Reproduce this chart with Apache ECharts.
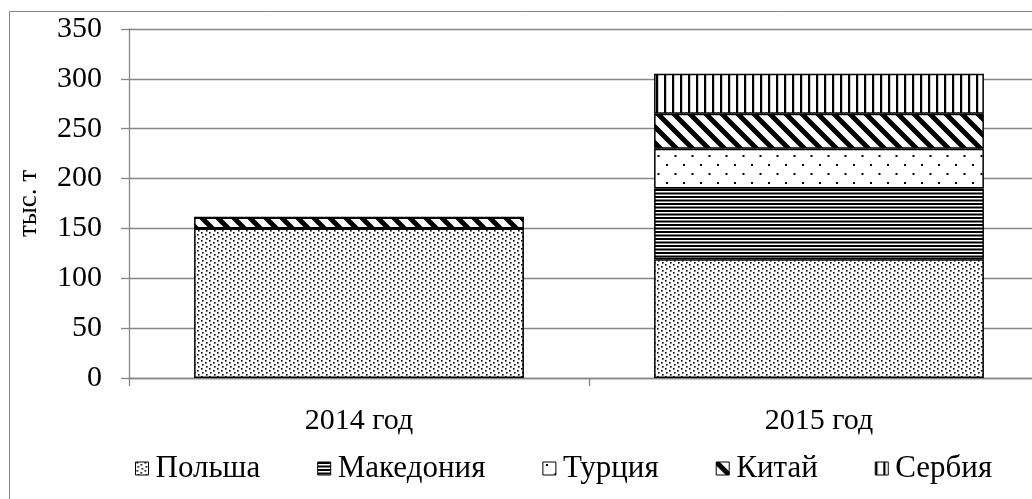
<!DOCTYPE html>
<html>
<head>
<meta charset="utf-8">
<script src="https://cdn.jsdelivr.net/npm/echarts@6/dist/echarts.min.js"></script>
<style>html,body{margin:0;padding:0;background:#fff}#c{width:1032px;height:499px}</style>
</head>
<body>
<div id="c"></div>
<script>
const categories = ['2014 год', '2015 год'];
const seriesNames = ['Польша', 'Македония', 'Турция', 'Китай', 'Сербия'];
const poland = [150, 119];
const macedonia = [0, 71];
const turkey = [0, 40];
const china = [11, 35];
const serbia = [0, 40];
const yTicks = [0, 50, 100, 150, 200, 250, 300, 350];

function makePattern(w, h, draw) {
  const c = document.createElement('canvas');
  c.width = w; c.height = h;
  const ctx = c.getContext('2d');
  ctx.fillStyle = '#fff';
  ctx.fillRect(0, 0, w, h);
  ctx.fillStyle = '#000';
  ctx.strokeStyle = '#000';
  draw(ctx, w, h);
  return { image: c, repeat: 'repeat' };
}
const patPoland = makePattern(8, 8, (ctx) => {
  ctx.fillRect(1, 0, 1.6, 1.6);
  ctx.fillRect(5, 2, 1.6, 1.6);
  ctx.fillRect(2, 4, 1.6, 1.6);
  ctx.fillRect(6, 6, 1.6, 1.6);
});
const patMacedonia = makePattern(4, 7, (ctx) => {
  ctx.fillRect(0, 0, 4, 2);
  ctx.fillRect(0, 3.5, 4, 2);
});
const patTurkey = makePattern(17, 18, (ctx) => {
  ctx.fillRect(3, 2, 2, 2);
  ctx.fillRect(11.5, 11, 2, 2);
});
const patChina = makePattern(16, 16, (ctx) => {
  ctx.lineWidth = 5;
  for (const k of [-16, 0, 16]) {
    ctx.beginPath();
    ctx.moveTo(-4, -4 + k);
    ctx.lineTo(20, 20 + k);
    ctx.stroke();
  }
});
const patSerbia = makePattern(8, 8, (ctx) => {
  ctx.fillRect(0, 0, 2.2, 8);
});
const patterns = [patPoland, patMacedonia, patTurkey, patChina, patSerbia];
const values = [poland, macedonia, turkey, china, serbia];

const font = 'Liberation Serif, Times New Roman, serif';
const chart = echarts.init(document.getElementById('c'));
chart.setOption({
  animation: false,
  backgroundColor: '#fff',
  graphic: [{
    type: 'rect', silent: true, z: -10,
    shape: { x: 9.5, y: 11.5, width: 1100, height: 600 },
    style: { fill: 'none', stroke: '#868686', lineWidth: 1 }
  }],
  grid: { left: 129, top: 29, width: 920, height: 349, outerBoundsMode: 'none', containLabel: false },
  legend: {
    left: 130, top: 448,
    icon: 'rect', itemWidth: 13, itemHeight: 13, itemGap: 57,
    itemStyle: { borderColor: '#000', borderWidth: 1 },
    formatter: '{a|{name}}',
    textStyle: { fontFamily: font, fontSize: 31, color: '#000',
      rich: { a: { fontFamily: font, fontSize: 31, color: '#000', padding: [0, 0, 0, 2] } } },
    data: seriesNames
  },
  xAxis: {
    type: 'category', data: categories,
    axisLine: { lineStyle: { color: '#868686', width: 1.3 } },
    axisTick: { show: true, length: 8, lineStyle: { color: '#868686', width: 1.3 } },
    axisLabel: { fontFamily: font, fontSize: 30, color: '#000', margin: 28 }
  },
  yAxis: {
    type: 'value', min: 0, max: 350, interval: 50,
    name: 'тыс. т', nameLocation: 'middle', nameGap: 87,
    nameTextStyle: { fontFamily: font, fontSize: 27, color: '#000' },
    axisLine: { show: true, lineStyle: { color: '#868686', width: 1.3 } },
    axisTick: { show: true, length: 8, lineStyle: { color: '#868686', width: 1.3 } },
    axisLabel: { fontFamily: font, fontSize: 30, color: '#000', margin: 27,
      formatter: (v) => yTicks.includes(v) ? String(v) : '' },
    splitLine: { lineStyle: { color: '#868686', width: 1.3 } }
  },
  series: seriesNames.map((name, i) => ({
    name, type: 'bar', stack: 'total', barCategoryGap: '28.3%',
    data: values[i],
    itemStyle: { color: patterns[i], borderColor: '#000', borderWidth: 1.5 }
  }))
});
</script>
</body>
</html>
